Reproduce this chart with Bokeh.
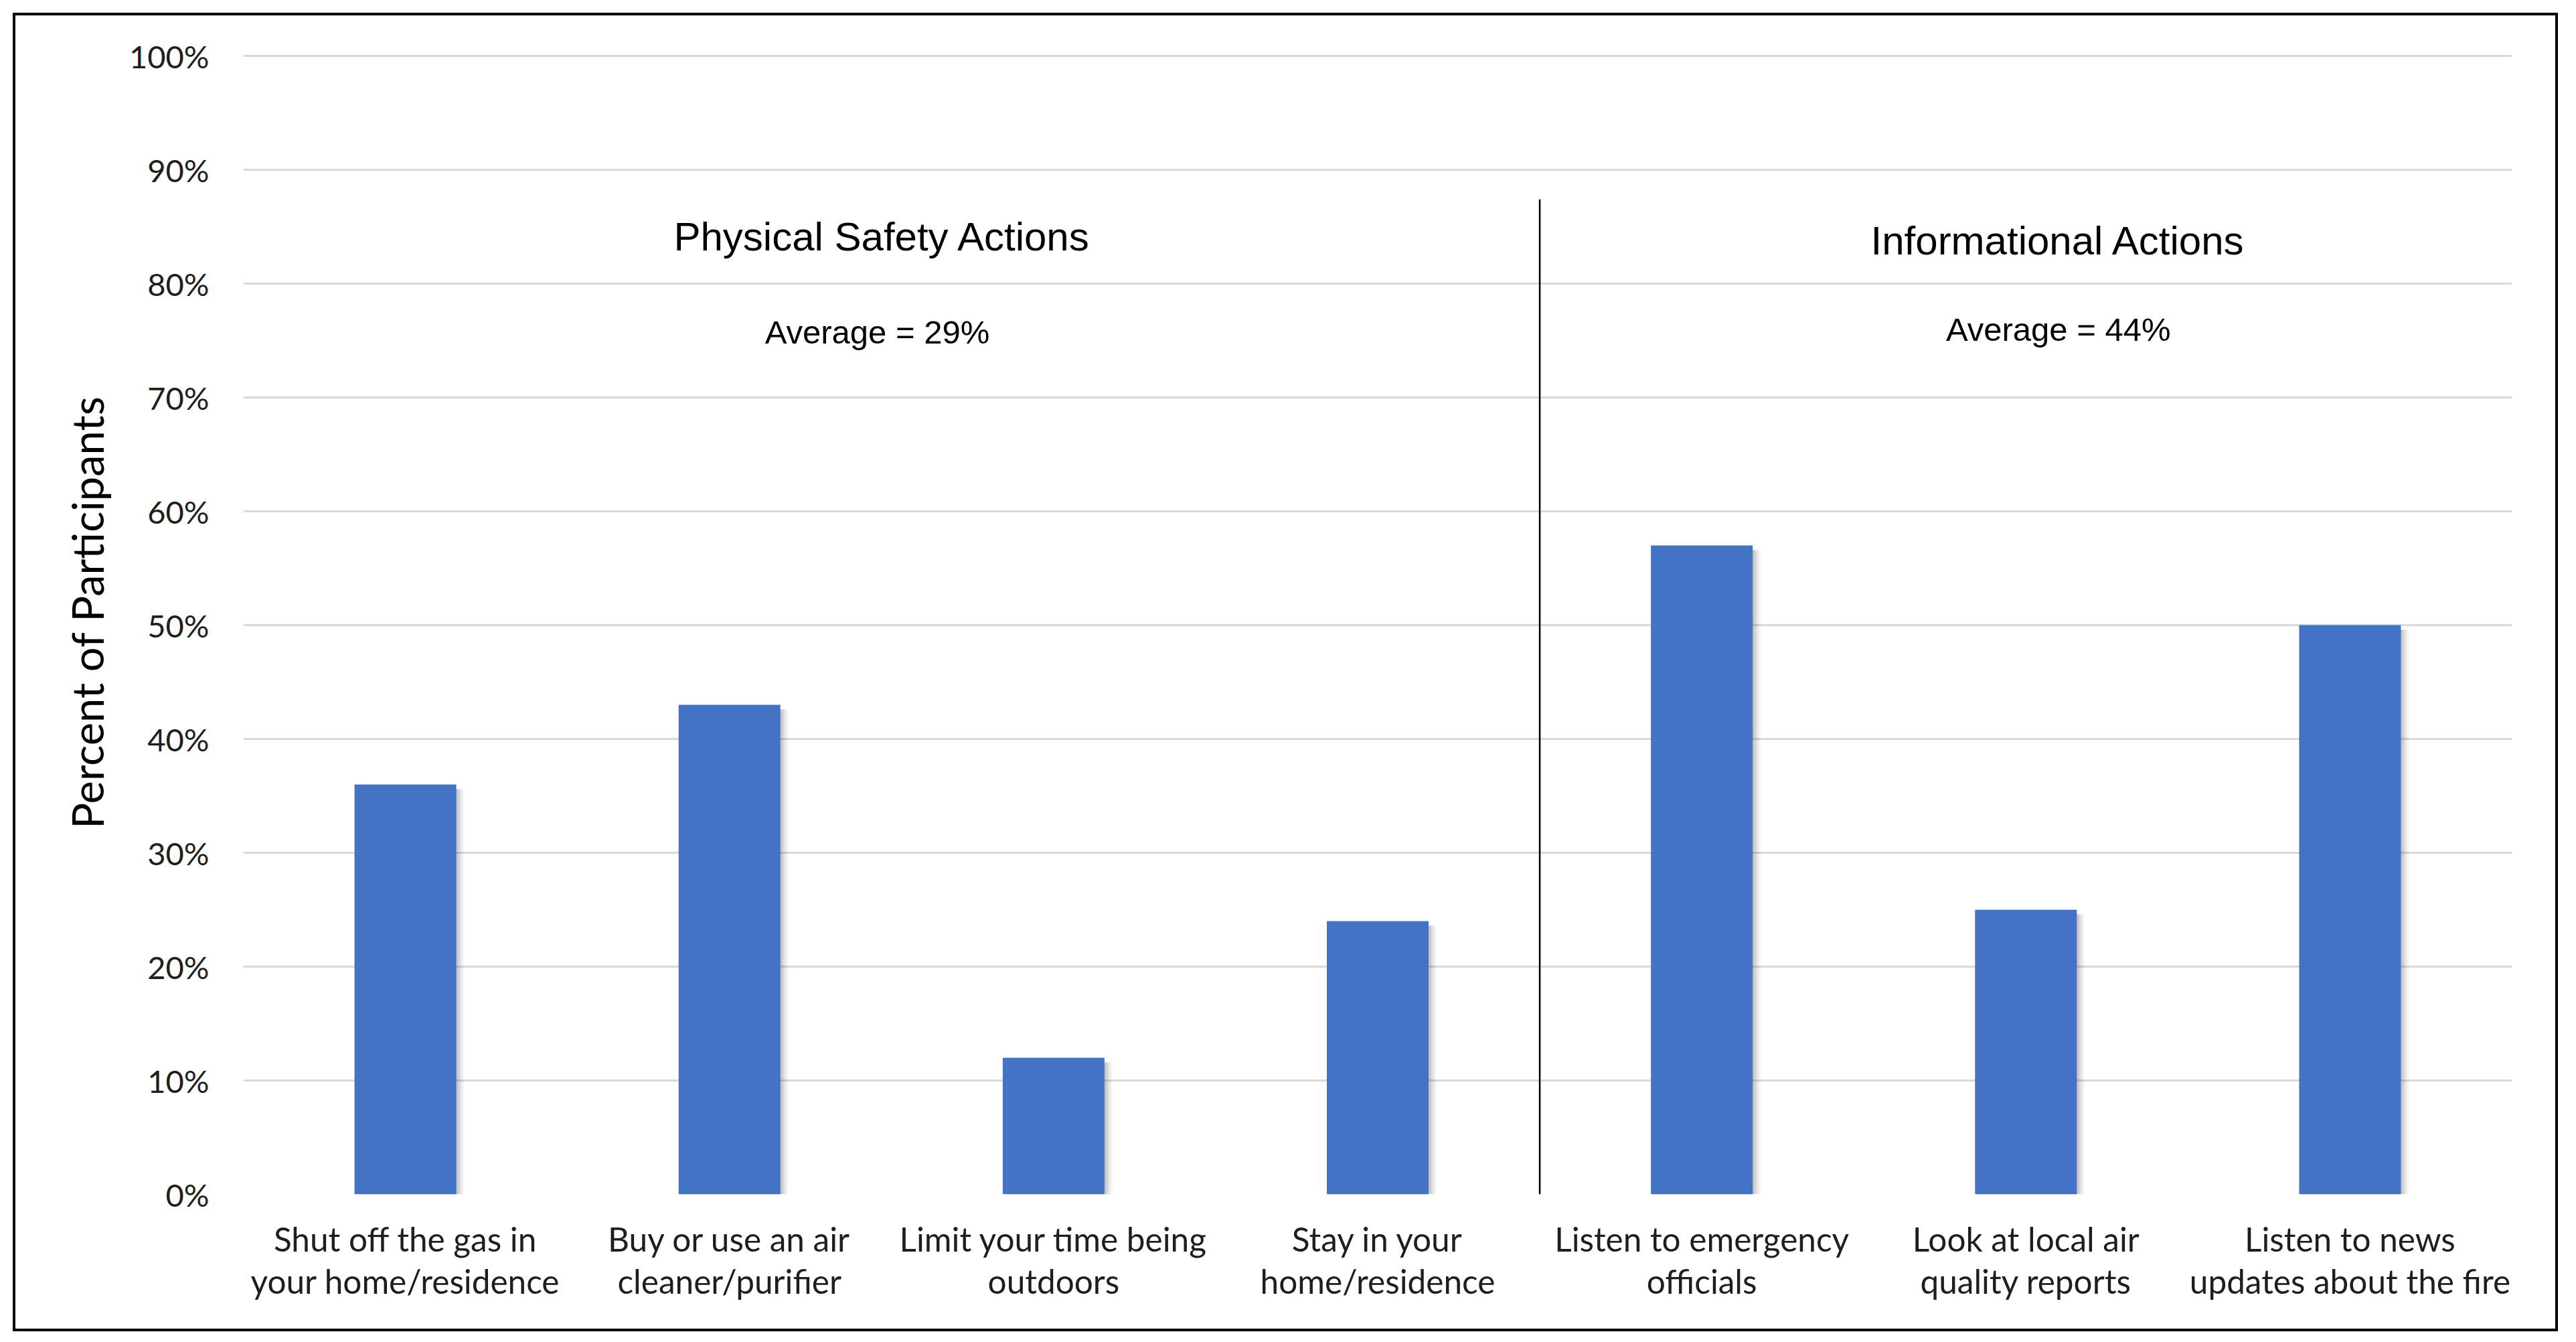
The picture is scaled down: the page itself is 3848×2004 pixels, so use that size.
from bokeh.plotting import figure
from bokeh.models import (ColumnDataSource, FixedTicker, PrintfTickFormatter, Range1d)
from bokeh.core.properties import value
from bokeh.embed import file_html
from bokeh.resources import INLINE

# ---- data ----
categories = [
    "Shut off the gas in\nyour home/residence",
    "Buy or use an air\ncleaner/purifier",
    "Limit your time being\noutdoors",
    "Stay in your\nhome/residence",
    "Listen to emergency\nofficials",
    "Look at local air\nquality reports",
    "Listen to news\nupdates about the fire",
]
percent = [36, 43, 12, 24, 57, 25, 50]
group_titles = ["Physical Safety Actions", "Informational Actions"]
group_averages = ["Average = 29%", "Average = 44%"]
y_ticks = [0, 10, 20, 30, 40, 50, 60, 70, 80, 90, 100]

x_pos = [i + 0.5 for i in range(len(categories))]
src = ColumnDataSource(dict(x=x_pos, top=percent))

W, H = 3802, 1969
p = figure(width=W, height=H, output_backend="svg", toolbar_location=None,
           x_range=Range1d(0, len(categories)), y_range=Range1d(0, 100.3),
           min_border_left=340, min_border_right=73, min_border_top=55,
           min_border_bottom=209)
p.styles = {"border": "4px solid black", "margin-left": "19px", "margin-top": "19px"}
p.outline_line_color = None
p.background_fill_color = "white"
p.border_fill_color = "white"

# soft drop shadow to the right of each bar
for k, a in enumerate([0.08, 0.07, 0.05, 0.04]):
    dx = 0.006 * (k + 1)
    p.vbar(x=[v + dx for v in x_pos], top=[t - 0.4 for t in percent], bottom=0,
           width=0.314, fill_color="black", fill_alpha=a, line_color=None)

p.vbar(x="x", top="top", bottom=0, width=0.314, source=src,
       fill_color="#4472C4", line_color=None)

# divider between the two groups
n_phys = 4
p.segment(x0=[n_phys], y0=[0], x1=[n_phys], y1=[87.4], line_color="black", line_width=2.5)

# group annotations
p.text(x=[1.972, 5.6], y=[84.1, 83.75], text=group_titles, text_align="center",
       text_baseline="middle", text_font=value("Liberation Sans"),
       text_font_size="60px", text_color="black")
p.text(x=[1.956, 5.6], y=[75.75, 76.0], text=group_averages, text_align="center",
       text_baseline="middle", text_font=value("Liberation Sans"),
       text_font_size="49px", text_color="black")

# axes
p.xgrid.grid_line_color = None
p.ygrid.grid_line_color = "#D9D9D9"
p.ygrid.grid_line_width = 3
p.yaxis.ticker = FixedTicker(ticks=y_ticks)
p.ygrid.ticker = FixedTicker(ticks=y_ticks)
p.yaxis.formatter = PrintfTickFormatter(format="%d%%")
p.yaxis.axis_line_color = None
p.yaxis.major_tick_line_color = None
p.yaxis.minor_tick_line_color = None
p.yaxis.major_label_text_font = "Lato"
p.yaxis.major_label_text_font_size = "47px"
p.yaxis.major_label_text_color = "#1e1e1e"
p.yaxis.major_label_standoff = 45
p.yaxis.axis_label = "\u00a0\u00a0Percent of Participants"
p.yaxis.axis_label_text_font = "Lato"
p.yaxis.axis_label_text_font_size = "65px"
p.yaxis.axis_label_text_font_style = "normal"
p.yaxis.axis_label_text_color = "black"
p.yaxis.axis_label_standoff = 21

p.xaxis.ticker = FixedTicker(ticks=x_pos)
p.xaxis.major_label_overrides = {x: c for x, c in zip(x_pos, categories)}
p.xaxis.axis_line_color = None
p.xaxis.major_tick_line_color = None
p.xaxis.minor_tick_line_color = None
p.xaxis.major_label_text_font = "Lato"
p.xaxis.major_label_text_font_size = "49.5px"
p.xaxis.major_label_text_line_height = 1.05
p.xaxis.major_label_text_color = "#1e1e1e"
p.xaxis.major_label_standoff = 30

open("out.html", "w").write(file_html(p, INLINE))
